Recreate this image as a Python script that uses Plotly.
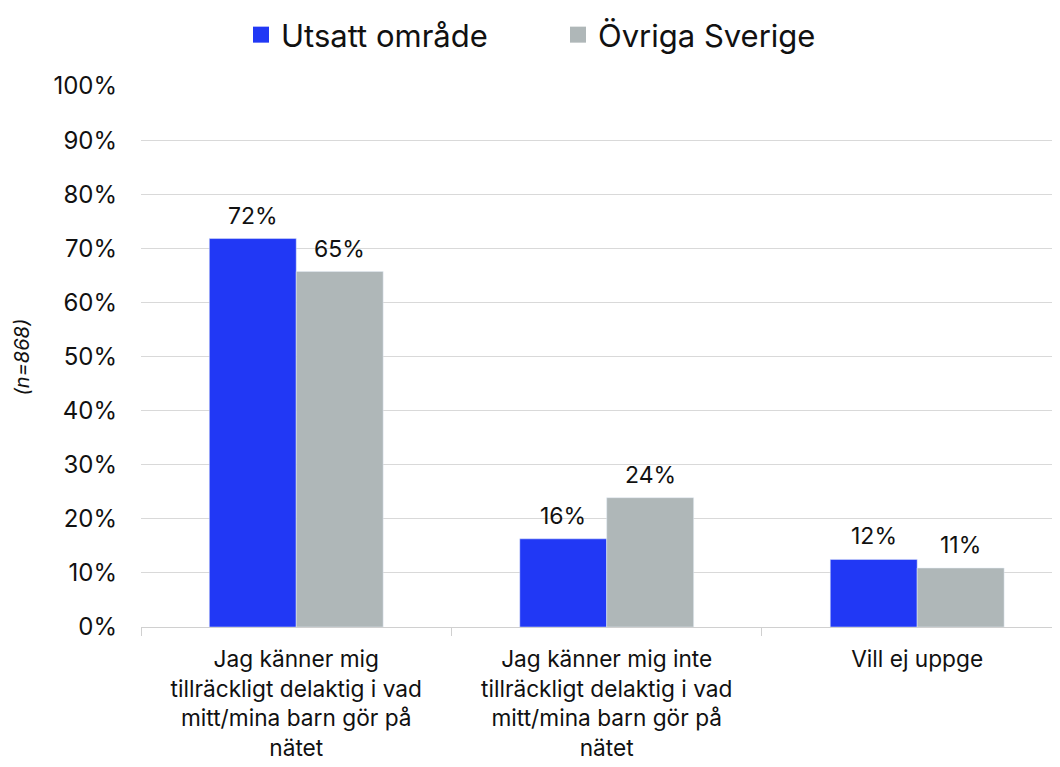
import plotly.graph_objects as go

categories = [
    "Jag känner mig<br>tillräckligt delaktig i vad<br>mitt/mina barn gör på<br>nätet",
    "Jag känner mig inte<br>tillräckligt delaktig i vad<br>mitt/mina barn gör på<br>nätet",
    "Vill ej uppge",
]
utsatt = [0.718, 0.163, 0.125]
ovriga = [0.657, 0.239, 0.109]
utsatt_labels = ["72%", "16%", "12%"]
ovriga_labels = ["65%", "24%", "11%"]

blue = "#2138f5"
grey = "#afb7b8"
font = "Inter, Noto Sans, sans-serif"

fig = go.Figure()
fig.add_trace(go.Bar(x=categories, y=utsatt, name="Utsatt område",
                     marker_color=blue, showlegend=False))
fig.add_trace(go.Bar(x=categories, y=ovriga, name="Övriga Sverige",
                     marker_color=grey, showlegend=False))
# legend-only entries with square symbols
for name, col in [("Utsatt område", blue), ("Övriga Sverige", grey)]:
    fig.add_trace(go.Scatter(x=[None], y=[None], mode="markers", name=name,
                             marker=dict(symbol="square", size=16, color=col)))

# value labels above the bars (bar half width ~43.5px)
for vals, labels, shift in [(utsatt, utsatt_labels, -43.5), (ovriga, ovriga_labels, 43.5)]:
    for c, v, t in zip(categories, vals, labels):
        fig.add_annotation(x=c, y=v, text=t, showarrow=False, xshift=shift,
                           yanchor="bottom", yshift=7,
                           font=dict(size=23, color="#111111"))

# y axis title
fig.add_annotation(text="<i>(n=868)</i>", xref="paper", yref="paper", x=-0.1295, y=0.5,
                   xanchor="center", yanchor="middle", textangle=-90, showarrow=False,
                   font=dict(size=20, color="#111111"))

fig.update_layout(
    width=1060, height=767,
    margin=dict(l=133, r=8, t=78, b=148, autoexpand=False),
    paper_bgcolor="white", plot_bgcolor="white",
    font=dict(family=font, size=22, color="#111111"),
    barmode="group", bargap=0.44, bargroupgap=0,
    legend=dict(orientation="h", xref="container", x=0.2198, xanchor="left",
                yref="container", y=1.0, yanchor="top", font=dict(size=31),
                itemwidth=30, entrywidth=272, traceorder="normal"),
    yaxis=dict(range=[0, 1], dtick=0.1, tickformat=".0%", showgrid=True,
               gridcolor="#d9d9d9", gridwidth=1, zeroline=False, automargin=False,
               ticks="", ticklabelstandoff=23, tickfont=dict(size=24)),
    xaxis=dict(range=[-0.5, 2.46], showline=True, linecolor="#d0d0d0", linewidth=1,
               automargin=False, ticks="outside", tickson="boundaries", ticklen=8,
               tickcolor="#d0d0d0", ticklabelstandoff=12, tickfont=dict(size=22.7)),
)

fig.write_html("out.html")
